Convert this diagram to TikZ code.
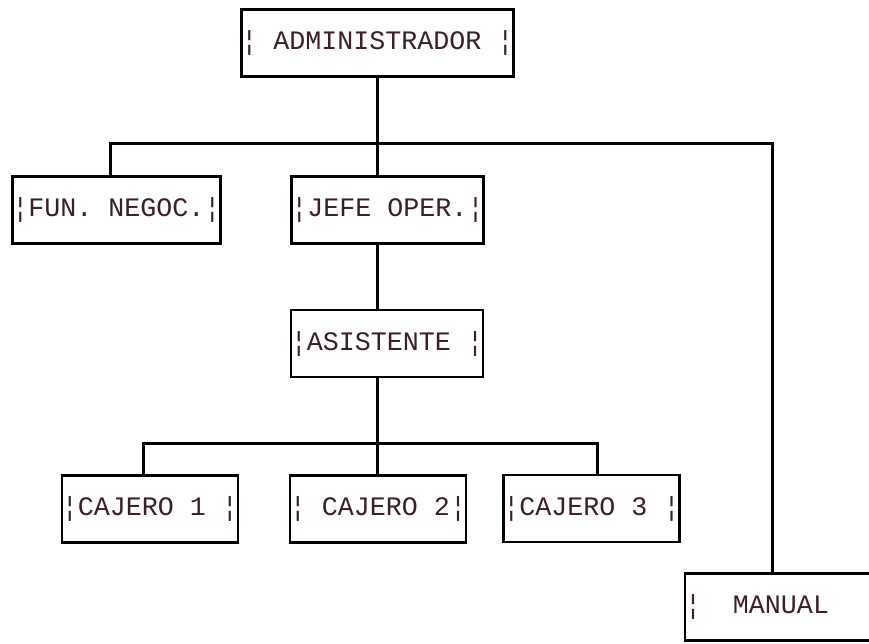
\documentclass[tikz,border=0pt]{standalone}
\usepackage{fontspec}
\usepackage{xcolor}
\usepackage{tikz}
\usetikzlibrary{calc,positioning}
\newfontfamily\dotfont[WordSpace={1,0,0}]{Liberation Mono}
\definecolor{inkx}{HTML}{3B1F24}
\tikzset{
  ln/.style={line width=3pt,black,line cap=rect},
  org/.style={draw=black,line width=2.8pt,fill=white,text=inkx,
    font=\dotfont\fontsize{26.67}{30}\selectfont,
    inner xsep=0pt,inner ysep=0pt,minimum height=67pt,anchor=center}
}
\begin{document}
\begin{tikzpicture}[x=1pt,y=-1pt]
\useasboundingbox (0,0) rectangle (869,643);
\clip (0,0) rectangle (869,643);
\coordinate (busL) at (110,143);
\coordinate (busR) at (772,143);
\coordinate (cbL) at (143,443);
\coordinate (cbR) at (597,443);
\node[org] (admin) at (377.5,43) {¦~ADMINISTRADOR~¦};
\node[org] (fun) at (116.5,210) {¦FUN.~NEGOC.¦};
\node[org] (jefe) at (387.5,210) {¦JEFE~OPER.¦};
\node[org] (asis) at (387,343.5) {¦ASISTENTE~¦};
\node[org] (caj1) at (150,509) {¦CAJERO~1~¦};
\node[org] (caj2) at (378,509) {¦~CAJERO~2¦};
\node[org] (caj3) at (591.5,508.5) {¦CAJERO~3~¦};
\node[org,text width=192pt,align=left] (manual) at (781,607) {¦\hspace*{32pt}MANUAL};
\draw[ln] (busL) -- (busR);
\draw[ln] (admin.south) -- (admin.south |- busL);
\draw[ln] (busL) -- (busL |- fun.north);
\draw[ln] (admin.south |- busL) -- (admin.south |- jefe.north);
\draw[ln] (busR) -- (busR |- manual.north);
\draw[ln] (admin.south |- jefe.south) -- (admin.south |- asis.north);
\draw[ln] (admin.south |- asis.south) -- (admin.south |- cbL);
\draw[ln] (cbL) -- (cbR);
\draw[ln] (cbL) -- (cbL |- caj1.north);
\draw[ln] (admin.south |- cbL) -- (admin.south |- caj2.north);
\draw[ln] (cbR) -- (cbR |- caj3.north);
\end{tikzpicture}
\end{document}
